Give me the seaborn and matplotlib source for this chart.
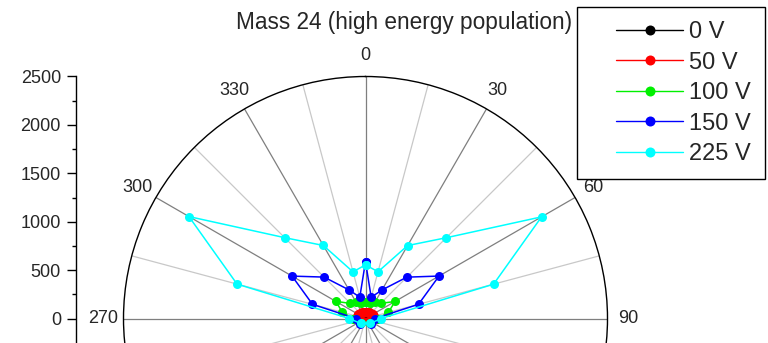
import numpy as np
import pandas as pd
import matplotlib
matplotlib.use("Agg")
import matplotlib.pyplot as plt
import seaborn as sns
from matplotlib.lines import Line2D
from matplotlib.legend_handler import HandlerLine2D

# ---------------- data ----------------
angles_deg = [0, 15, 30, 45, 60, 75, 90, 135, 225, 270, 285, 300, 315, 330, 345]
series_labels = ["0 V", "50 V", "100 V", "150 V", "225 V"]
counts_0V = [30, 30, 35, 40, 45, 40, 35, 20, 20, 35, 40, 45, 40, 35, 30]
counts_50V = [65, 70, 75, 85, 95, 90, 80, 40, 40, 80, 90, 95, 85, 75, 70]
counts_100V = [175, 165, 200, 220, 352, 245, 130, 60, 60, 130, 246, 355, 220, 200, 168]
counts_150V = [588, 227, 340, 604, 877, 567, 98, 80, 80, 100, 567, 876, 605, 341, 228]
counts_225V = [554, 500, 870, 1180, 2100, 1370, 160, 72, 72, 168, 1374, 2106, 1181, 871, 499]
series_colors = ["black", "red", "#00f000", "blue", "cyan"]
title = "Mass 24 (high energy population)"
theta_ticks = [0, 30, 60, 90, 120, 150, 180, 210, 240, 270, 300, 330]
theta_visible = [0, 30, 60, 90, 270, 300, 330]
r_ticks = [0, 500, 1000, 1500, 2000, 2500]
r_max = 2500

all_counts = [counts_0V, counts_50V, counts_100V, counts_150V, counts_225V]

rows = []
for lab, vals in zip(series_labels, all_counts):
    closed_a = angles_deg + [angles_deg[0]]
    closed_v = vals + [vals[0]]
    for i, (a, v) in enumerate(zip(closed_a, closed_v)):
        rows.append({"series": lab, "theta": np.deg2rad(a), "r": v, "order": i})
df = pd.DataFrame(rows)

# ---------------- style ----------------
sns.set_style("white")
plt.rcParams["font.family"] = ["Liberation Sans", "DejaVu Sans"]

W, H = 768, 343
fig = plt.figure(figsize=(W / 100, H / 100), dpi=100)

cx, cy, rad = 365.5, 318.5, 242.0
left = (cx - rad) / W
bottom = (H - cy - rad) / H
ax = fig.add_axes([left, bottom, 2 * rad / W, 2 * rad / H], projection="polar")
ax.set_theta_zero_location("N")
ax.set_theta_direction(-1)
ax.set_facecolor("none")

pal = dict(zip(series_labels, series_colors))
sns.lineplot(data=df, x="theta", y="r", hue="series", palette=pal,
             hue_order=series_labels, sort=False, estimator=None,
             marker="o", markersize=6.5, markeredgewidth=0, linewidth=1.1,
             ax=ax, legend=False)

ax.set_ylim(0, r_max)
ax.set_yticks([])
ax.set_xlabel("")
ax.set_ylabel("")
ax.set_xticks(np.deg2rad(theta_ticks))
ax.set_xticklabels([str(t) if t in theta_visible else "" for t in theta_ticks],
                   fontsize=13)
ax.set_xticks(np.deg2rad(np.array(theta_ticks) + 15), minor=True)
ax.xaxis.grid(True, which="major", color="#7f7f7f", linewidth=0.9)
ax.xaxis.grid(True, which="minor", color="#c8c8c8", linewidth=0.9)
ax.yaxis.grid(False)
ax.tick_params(axis="x", which="major", direction="in", length=5, width=0.9,
               color="black", pad=8)
ax.tick_params(axis="x", which="minor", direction="in", length=3.5, width=0.9,
               color="black")
ax.spines["polar"].set_color("black")
ax.spines["polar"].set_linewidth(1.0)
ax.set_axisbelow(True)

# ---------------- left radial scale ----------------
ax2 = fig.add_axes([75.5 / W, bottom, 0.0001, 2 * rad / H])
ax2.set_ylim(-r_max, r_max)
ax2.patch.set_visible(False)
for s in ["top", "right", "bottom"]:
    ax2.spines[s].set_visible(False)
ax2.spines["left"].set_color("black")
ax2.spines["left"].set_linewidth(1.0)
ax2.set_xticks([])
ax2.set_yticks(r_ticks)
ax2.set_yticklabels([str(t) for t in r_ticks], fontsize=13)
ax2.set_yticks(np.array(r_ticks[:-1]) + 250, minor=True)
ax2.tick_params(axis="y", which="major", direction="out", length=6.5, width=1.0,
                color="black", pad=4, left=True)
ax2.tick_params(axis="y", which="minor", direction="out", length=3.2, width=1.0,
                color="black", left=True)

# ---------------- title ----------------
fig.text(404 / W, 1 - 28.5 / H, title, ha="center", va="baseline", fontsize=16.3)

# ---------------- legend ----------------
handles = [Line2D([], [], color=c, marker="o", markersize=7.2, markeredgewidth=0,
                  linewidth=1.0) for c in series_colors]
leg = fig.legend(handles, series_labels, loc="upper left",
                 bbox_to_anchor=(577 / W, 1 - 7 / H), bbox_transform=fig.transFigure,
                 frameon=True, fancybox=False, edgecolor="black", fontsize=17,
                 borderpad=0.6, handlelength=3.9, handletextpad=0.25,
                 labelspacing=0.36, borderaxespad=0, numpoints=1,
                 handler_map={Line2D: HandlerLine2D(xpad=1.05)})
leg.get_frame().set_linewidth(1.0)
leg.get_frame().set_alpha(None)
leg.get_frame().set_facecolor("white")

fig.savefig("out.png", dpi=100)
